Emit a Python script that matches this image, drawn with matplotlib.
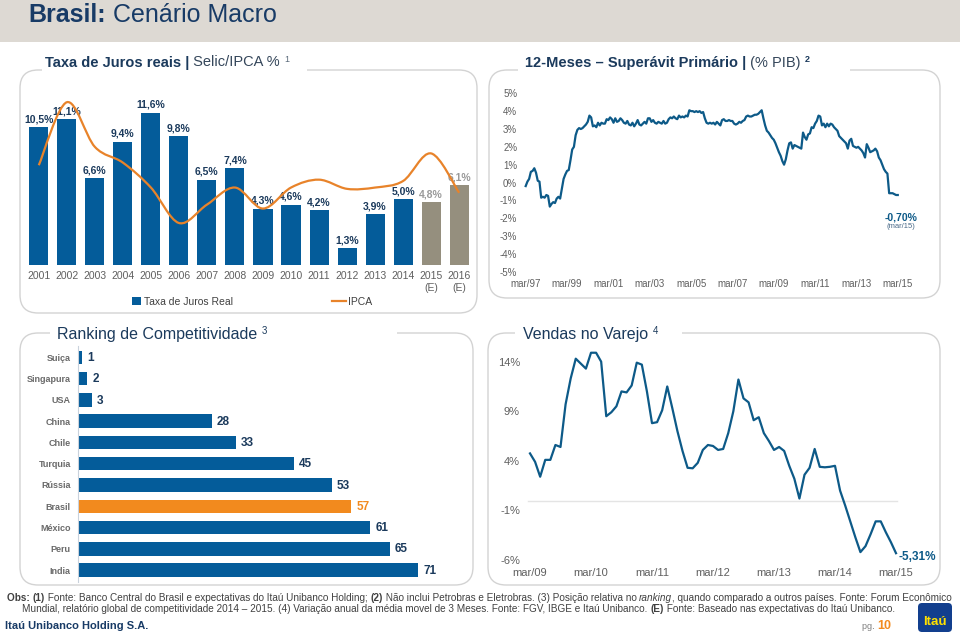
import matplotlib
matplotlib.use("Agg")
import matplotlib.pyplot as plt
from matplotlib.patches import FancyBboxPatch, Rectangle, PathPatch
from matplotlib.path import Path
from matplotlib.lines import Line2D
import numpy as np

W, H = 960, 634

# ==================================
# DADOS
# ==================================

anos = ["2001", "2002", "2003", "2004", "2005", "2006", "2007", "2008",
        "2009", "2010", "2011", "2012", "2013", "2014", "2015\n(E)", "2016\n(E)"]
juros_real = [10.5, 11.1, 6.6, 9.4, 11.6, 9.8, 6.5, 7.4,
              4.3, 4.6, 4.2, 1.3, 3.9, 5.0, 4.8, 6.1]
ipca = [7.6, 12.4, 9.0, 7.8, 5.9, 3.2, 4.6, 5.9,
        4.3, 5.9, 6.5, 5.8, 5.9, 6.4, 8.5, 5.5]
estimado = [False] * 14 + [True, True]

# superavit primario 12 meses (% PIB), mensal mar/97 .. mar/15
superavit = [
    -0.2, 0.05, 0.2, 0.6, 0.65, 0.8, 0.55, 0.1, 0.05, -0.85, -0.8, -0.85,
    -0.7, -0.75, -1.35, -1.2, -1.1, -1.15, -0.9, -0.8, -0.9, -0.35, 0.2, 0.45,
    0.65, 0.7, 1.25, 1.85, 2.0, 2.65, 2.95, 3.05, 3.0, 3.05, 3.15, 3.25,
    3.4, 3.75, 3.65, 3.15, 3.2, 3.1, 3.35, 3.2, 3.35, 3.3, 3.3, 3.55,
    3.5, 3.65, 3.55, 3.35, 3.6, 3.4, 3.45, 3.6, 3.5, 3.35, 3.3, 3.45,
    3.25, 3.2, 3.35, 3.15, 3.3, 3.5, 3.25, 3.2, 3.3, 3.4, 3.3, 3.6,
    3.6, 3.4, 3.5, 3.35, 3.3, 3.4, 3.35, 3.3, 3.45, 3.3, 3.35, 3.55,
    3.65, 3.6, 3.7, 3.6, 3.55, 3.75, 3.65, 3.7, 3.65, 3.75, 3.7, 4.05,
    4.0, 4.0, 3.95, 4.0, 3.95, 4.0, 3.9, 3.95, 3.6, 3.35, 3.3, 3.35,
    3.3, 3.35, 3.25, 3.4, 3.3, 3.2, 3.5, 3.55, 3.45, 3.45, 3.5, 3.45,
    3.45, 3.3, 3.25, 3.3, 3.4, 3.35, 3.45, 3.5, 3.7, 3.75, 3.7, 3.7,
    3.75, 3.8, 3.8, 3.85, 3.95, 4.05, 3.6, 3.2, 2.9, 2.8, 2.65, 2.5,
    2.4, 2.2, 1.95, 1.7, 1.5, 1.2, 1.0, 1.3, 1.8, 2.2, 2.25, 1.9,
    2.1, 2.05, 2.0, 1.95, 1.9, 2.8, 2.55, 2.4, 2.7, 2.75, 3.1, 3.05,
    3.3, 3.45, 3.75, 3.7, 3.2, 3.3, 3.1, 3.3, 3.15, 3.3, 3.25, 3.1,
    3.0, 2.9, 2.6, 2.5, 2.4, 2.3, 2.2, 1.9, 2.35, 2.45, 2.05, 2.0,
    1.95, 2.0, 1.9, 1.8, 1.65, 1.4, 2.15, 1.95, 1.7, 1.75, 1.8, 1.9,
    1.75, 1.4, 1.25, 1.0, 0.75, 0.6, 0.5, -0.6, -0.6, -0.6, -0.65, -0.7,
    -0.7,
]
rotulos_sup = ["mar/97", "mar/99", "mar/01", "mar/03", "mar/05",
               "mar/07", "mar/09", "mar/11", "mar/13", "mar/15"]

paises = ["Suiça", "Singapura", "USA", "China", "Chile", "Turquia",
          "Rússia", "Brasil", "México", "Peru", "India"]
ranking = [1, 2, 3, 28, 33, 45, 53, 57, 61, 65, 71]

# vendas no varejo, mensal mar/09 .. mar/15
vendas = [
    4.75, 3.9, 2.4, 4.1, 4.1, 5.6, 5.4, 9.7, 12.3, 14.3, 13.8, 13.3,
    14.9, 14.9, 14.0, 8.5, 8.9, 9.5, 11.0, 10.9, 11.6, 13.9, 13.7, 11.0,
    7.8, 7.9, 9.1, 11.5, 9.3, 7.0, 5.0, 3.3, 3.25, 3.8, 5.1, 5.6,
    5.5, 5.1, 5.2, 6.8, 9.0, 12.2, 10.3, 9.9, 8.1, 8.4, 6.8, 6.0,
    5.1, 5.4, 5.0, 3.5, 2.2, 0.2, 2.6, 3.3, 5.2, 3.4, 3.35, 3.4,
    3.5, 1.0, -0.5, -2.1, -3.7, -5.2, -4.6, -3.4, -2.1, -2.1, -3.2, -4.2,
    -5.31,
]
rotulos_vendas = ["mar/09", "mar/10", "mar/11", "mar/12", "mar/13", "mar/14", "mar/15"]

# ==================================
# ESTILO
# ==================================

plt.rcParams["font.family"] = ["Liberation Sans", "DejaVu Sans"]
NARROW = ["Liberation Sans Narrow", "Liberation Sans", "DejaVu Sans"]

AZUL = "#045C9A"
AZUL_LINHA = "#0D5A88"
NAVY = "#1B3A5C"
CINZA_BAR = "#958F7E"
CINZA_TXT = "#5F5F5F"
LARANJA = "#E8832A"
LARANJA_BAR = "#F28A1E"

fig = plt.figure(figsize=(9.6, 6.34), dpi=100)
ov = fig.add_axes([0, 0, 1, 1])
ov.set_xlim(0, W)
ov.set_ylim(H, 0)
ov.axis("off")
renderer = fig.canvas.get_renderer()


def largura(s, props):
    t = ov.text(0, 0, s + "|", **props)
    w = t.get_window_extent(renderer).width
    t.set_text("|")
    w -= t.get_window_extent(renderer).width
    t.remove()
    return w


def rich(x, y, parts, base):
    for s, p in parts:
        props = {**base, **p}
        dy = props.pop("dy", 0)
        ov.text(x, y + dy, s, va="baseline", ha="left", **props)
        x += largura(s, props)
    return x


def px_axes(x0, x1, y0, y1):
    ax = fig.add_axes([x0 / W, 1 - y1 / H, (x1 - x0) / W, (y1 - y0) / H])
    ax.set_facecolor("none")
    for s in ax.spines.values():
        s.set_visible(False)
    return ax


# ==================================
# CABECALHO E MOLDURAS
# ==================================

ov.add_patch(Rectangle((0, 0), W, 42, facecolor="#DDD9D3", edgecolor="none"))
rich(28, 22, [("Brasil:", {"weight": "bold"}), (" Cenário Macro", {})],
     dict(size=18, color="#183B66"))

caixas = [(20, 70, 477, 313), (489, 70, 940, 298),
          (20, 333, 473, 585), (488, 333, 940, 585)]
for x0, y0, x1, y1 in caixas:
    ov.add_patch(FancyBboxPatch((x0, y0), x1 - x0, y1 - y0,
                                boxstyle="round,pad=0,rounding_size=18",
                                facecolor="none", edgecolor="#D3D3D3", lw=1.0))

titulo_base = dict(family=NARROW, size=10.5, color=NAVY)
sup = {"size": 6.5, "dy": -5, "color": "#5A6A7A"}
regular = {"color": "#34465A"}

ov.add_patch(Rectangle((42, 66), 265, 8, facecolor="white", edgecolor="none"))
rich(45, 66.5, [("Taxa de Juros reais |", {"weight": "bold"}),
                (" Selic/IPCA % ", regular), ("1", sup)], titulo_base)

ov.add_patch(Rectangle((518, 66), 332, 8, facecolor="white", edgecolor="none"))
rich(525, 66.5, [("12-Meses – Superávit Primário |", {"weight": "bold"}),
                 (" (% PIB) ", regular), ("2", {**sup, "weight": "bold", "color": NAVY})],
     titulo_base)

titulo2 = dict(size=11.5, color=NAVY)
sup2 = {"size": 7, "dy": -6}
ov.add_patch(Rectangle((50, 329), 347, 8, facecolor="white", edgecolor="none"))
rich(57, 339.5, [("Ranking de Competitividade ", {}), ("3", sup2)], titulo2)
ov.add_patch(Rectangle((515, 329), 167, 8, facecolor="white", edgecolor="none"))
rich(523, 339.5, [("Vendas no Varejo ", {}), ("4", sup2)], titulo2)

# ==================================
# TAXA DE JUROS REAIS
# ==================================

ax1 = px_axes(24, 474, 95, 265)
x = np.arange(len(anos))
cores = [CINZA_BAR if e else AZUL for e in estimado]
barras = ax1.bar(x, juros_real, width=0.68, color=cores)
for xi, v, e in zip(x, juros_real, estimado):
    ax1.annotate(f"{v:.1f}%".replace(".", ","), (xi, v), xytext=(0, 2),
                 textcoords="offset points", ha="center", va="bottom",
                 fontsize=7.5, fontweight="bold",
                 color="#9A9A9A" if e else NAVY)

# IPCA suavizado (curva Bezier passando pelos pontos)
pts = np.column_stack([x, ipca]).astype(float)
ext = np.vstack([pts[0], pts, pts[-1]])
verts = [pts[0]]
codes = [Path.MOVETO]
for i in range(len(pts) - 1):
    p0, p1, p2, p3 = ext[i], ext[i + 1], ext[i + 2], ext[i + 3]
    verts += [p1 + (p2 - p0) / 6, p2 - (p3 - p1) / 6, p2]
    codes += [Path.CURVE4] * 3
ax1.add_patch(PathPatch(Path(verts, codes), facecolor="none",
                        edgecolor=LARANJA, lw=1.6, zorder=3))

ax1.set_xlim(-0.528, 15.53)
ax1.set_ylim(0, 12.95)
ax1.set_xticks(x, anos)
ax1.set_yticks([])
ax1.tick_params(axis="x", length=0, pad=4.5, labelsize=7.5, labelcolor=CINZA_TXT)

leg1 = fig.legend([barras], ["Taxa de Juros Real"], loc="center left",
                  bbox_to_anchor=(132 / W, 1 - 302 / H), frameon=False,
                  borderpad=0, borderaxespad=0, handlelength=0.9,
                  handleheight=0.8, handletextpad=0.3, fontsize=7.5)
for t in leg1.get_texts():
    t.set_color("#404040")
leg2 = fig.legend([Line2D([], [], color=LARANJA, lw=1.6)], ["IPCA"],
                  loc="center left", bbox_to_anchor=(332 / W, 1 - 302 / H),
                  frameon=False, borderpad=0, borderaxespad=0,
                  handlelength=1.3, handletextpad=0.2, fontsize=7.5)
for t in leg2.get_texts():
    t.set_color("#404040")

# ==================================
# SUPERAVIT PRIMARIO
# ==================================

ax2 = px_axes(520, 905, 86, 276)
meses = np.arange(len(superavit))
ax2.plot(meses, superavit, color=AZUL_LINHA, lw=1.6)
ax2.set_xlim(-3.3, 220.2)
ax2.set_ylim(-5.24, 5.41)
ax2.set_yticks(range(-5, 6), [f"{v}%" for v in range(-5, 6)])
ax2.set_xticks(range(0, 217, 24), rotulos_sup)
ax2.tick_params(length=0, labelsize=7, labelcolor=CINZA_TXT, pad=2)
ax2.annotate("-0,70%", (meses[-1], superavit[-1]), xytext=(2.4, -16.3),
             textcoords="offset points", ha="center", va="center",
             fontsize=7.5, fontweight="bold", color=AZUL_LINHA)
ax2.annotate("(mar/15)", (meses[-1], superavit[-1]), xytext=(2.4, -22.8),
             textcoords="offset points", ha="center", va="center",
             fontsize=5.5, color="#4A6A88")

# ==================================
# RANKING DE COMPETITIVIDADE
# ==================================

ax3 = px_axes(77.7, 470, 346, 582)
pos = np.arange(len(paises))
cores3 = [LARANJA_BAR if p == "Brasil" else AZUL for p in paises]
ax3.barh(pos, ranking, height=0.63, color=cores3)
ax3.set_xlim(0, 81.73)
ax3.set_ylim(10.56, -0.53)
ax3.set_yticks(pos, paises)
ax3.set_xticks([])
ax3.spines["left"].set_visible(True)
ax3.spines["left"].set_color("#C9D2DC")
ax3.tick_params(axis="y", length=0, pad=5, labelsize=6.5, labelcolor="#6A6A6A")
for lab in ax3.get_yticklabels():
    lab.set_fontweight("bold")
for p, v in zip(pos, ranking):
    ax3.annotate(str(v), (v, p), xytext=(3.5, -0.5), textcoords="offset points",
                 ha="left", va="center", fontsize=8.5, fontweight="bold",
                 color=LARANJA_BAR if paises[p] == "Brasil" else NAVY)

# ==================================
# VENDAS NO VAREJO
# ==================================

ax4 = px_axes(522, 905, 345, 566)
k = np.arange(len(vendas))
ax4.axhline(0, xmin=0.0157, xmax=0.979, color="#E4E4E4", lw=1)
ax4.plot(k, vendas, color=AZUL_LINHA, lw=1.6)
ax4.set_xlim(-1.574, 73.77)
ax4.set_ylim(-6.6, 15.68)
ax4.set_yticks([14, 9, 4, -1, -6], ["14%", "9%", "4%", "-1%", "-6%"])
ax4.set_xticks(range(0, 73, 12), rotulos_vendas)
ax4.tick_params(length=0, labelsize=8, labelcolor=CINZA_TXT, pad=1.5)
ax4.annotate("-5,31%", (k[-1], vendas[-1]), xytext=(1.5, -2.5),
             textcoords="offset points", ha="left", va="center",
             fontsize=8.5, fontweight="bold", color=AZUL_LINHA)

# ==================================
# RODAPE
# ==================================

b = {"weight": "bold"}
linha1 = [("Obs: ", b), ("(1)", b),
          (" Fonte: Banco Central do Brasil e expectativas do Itaú Unibanco Holding; ", {}),
          ("(2)", b),
          (" Não inclui Petrobras e Eletrobras. (3) Posição relativa no ", {}),
          ("ranking", {"style": "italic"}),
          (", quando comparado a outros países. Fonte: Forum Econômico", {})]
linha2 = [("Mundial, relatório global de competitividade 2014 – 2015. (4) Variação anual da média movel de 3 Meses. Fonte: FGV, IBGE e Itaú Unibanco. ", {}),
          ("(E)", b),
          (" Fonte: Baseado nas expectativas do Itaú Unibanco.", {})]

rodape = dict(family=NARROW, color="#404040", size=7)
total = sum(largura(s, {**rodape, **p}) for s, p in linha1)
rodape["size"] = 7 * 946 / total
rich(7, 601, linha1, rodape)
rich(22, 612, linha2, rodape)

ov.text(5, 629, "Itaú Unibanco Holding S.A.", family=NARROW, weight="bold",
        size=8, color="#183B66", va="baseline")
rich(862, 629, [("pg. ", {"size": 6.5, "color": "#7F7F7F"}),
                ("10", {"size": 9, "weight": "bold", "color": "#F28A1E"})],
     dict(family=NARROW))

ov.add_patch(FancyBboxPatch((918, 603), 34, 29,
                            boxstyle="round,pad=0,rounding_size=4",
                            facecolor="#123F8E", edgecolor="none"))
ov.text(935, 622, "Itaú", ha="center", va="center", family=NARROW,
        weight="bold", size=9.5, color="#FFE100")

fig.savefig("out.png", dpi=100)
